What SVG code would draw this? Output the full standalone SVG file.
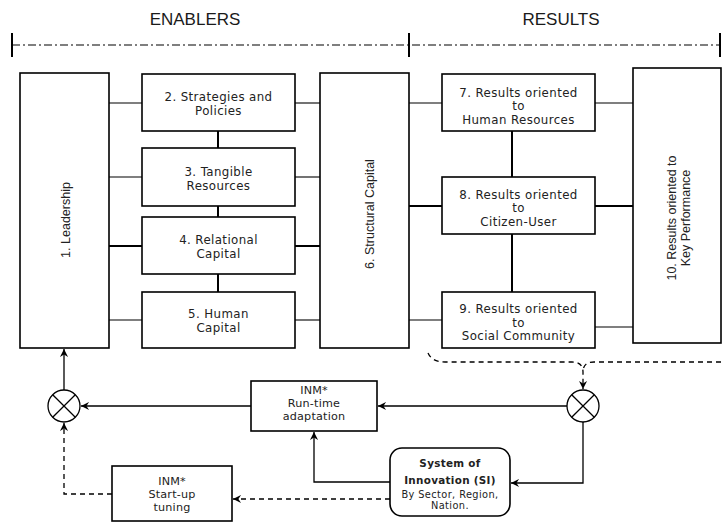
<svg xmlns="http://www.w3.org/2000/svg" width="722" height="522" viewBox="0 0 722 522">
  <defs>
    <marker id="arrow" viewBox="0 0 10 10" refX="9.5" refY="5" markerWidth="9" markerHeight="9" markerUnits="userSpaceOnUse" orient="auto">
      <path d="M0.5,0.5 L9.5,5 L0.5,9.5 L3.5,5 Z" fill="#000"/>
    </marker>
    <style>
      .box { fill: #fff; stroke: #000; stroke-width: 1.6; }
      .lbl { font-family: "DejaVu Sans", Verdana, sans-serif; font-size: 11.8px; letter-spacing: 0.4px; fill: #222; text-anchor: middle; }
      .small { font-family: "DejaVu Sans", Verdana, sans-serif; font-size: 11.2px; letter-spacing: 0.2px; fill: #222; text-anchor: middle; }
      .si { font-family: "DejaVu Sans", Verdana, sans-serif; font-size: 9.8px; letter-spacing: 0.4px; fill: #222; text-anchor: middle; }
      .sib { font-family: "DejaVu Sans", Verdana, sans-serif; font-size: 10.4px; font-weight: bold; letter-spacing: 0.3px; fill: #222; text-anchor: middle; }
      .rot { font-family: "Liberation Sans", Arial, sans-serif; font-size: 12.5px; fill: #222; text-anchor: middle; }
      .head { font-family: "Liberation Sans", Arial, sans-serif; font-size: 17px; fill: #1a1a1a; text-anchor: middle; }
      .conn { fill: none; stroke: #000; stroke-width: 1.1; }
      .thick { fill: none; stroke: #000; stroke-width: 2; }
      .flow { fill: none; stroke: #000; stroke-width: 1.3; }
      .dash { fill: none; stroke: #000; stroke-width: 1.3; stroke-dasharray: 5,4; }
      .sum { fill: #fff; stroke: #000; stroke-width: 1.3; }
    </style>
  </defs>

  <!-- section headings -->
  <g id="headers">
    <text class="head" x="195" y="25">ENABLERS</text>
    <text class="head" x="561" y="25">RESULTS</text>
    <line x1="12" y1="45" x2="720" y2="45" stroke="#000" stroke-width="1.1" stroke-dasharray="8,3,2,3"/>
    <line x1="12" y1="33" x2="12" y2="57" stroke="#000" stroke-width="2"/>
    <line x1="409" y1="33" x2="409" y2="57" stroke="#000" stroke-width="2"/>
    <line x1="720" y1="33" x2="720" y2="57" stroke="#000" stroke-width="2"/>
  </g>

  <!-- connectors -->
  <g id="connectors">
    <!-- leadership to enablers -->
    <line class="conn" x1="109" y1="103" x2="142" y2="103"/>
    <line class="conn" x1="109" y1="177" x2="142" y2="177"/>
    <line class="thick" x1="109" y1="246" x2="142" y2="246"/>
    <line class="conn" x1="109" y1="320" x2="142" y2="320"/>
    <!-- enablers to structural capital -->
    <line class="conn" x1="295" y1="103" x2="320" y2="103"/>
    <line class="conn" x1="295" y1="177" x2="320" y2="177"/>
    <line class="thick" x1="295" y1="246" x2="320" y2="246"/>
    <line class="conn" x1="295" y1="320" x2="320" y2="320"/>
    <!-- enabler chain -->
    <line class="thick" x1="218" y1="131" x2="218" y2="148"/>
    <line class="thick" x1="218" y1="206" x2="218" y2="217"/>
    <line class="thick" x1="218" y1="274" x2="218" y2="292"/>
    <!-- structural capital to results -->
    <line class="conn" x1="409" y1="103" x2="442" y2="103"/>
    <line class="thick" x1="409" y1="206" x2="442" y2="206"/>
    <line class="conn" x1="409" y1="320" x2="442" y2="320"/>
    <!-- results chain -->
    <line class="thick" x1="512" y1="131" x2="512" y2="177"/>
    <line class="thick" x1="512" y1="234" x2="512" y2="292"/>
    <!-- results to key performance -->
    <line class="conn" x1="595" y1="103" x2="633" y2="103"/>
    <line class="thick" x1="595" y1="206" x2="633" y2="206"/>
    <line class="conn" x1="595" y1="327" x2="633" y2="327"/>

    <!-- feedback loop -->
    <path class="dash" d="M428,353 Q432,362 445,362 L572,362 Q583,362 583,372 L583,389" marker-end="url(#arrow)"/>
    <path class="dash" d="M721,362 L594,362 Q583,362 583,372"/>
    <line class="flow" x1="567" y1="406" x2="378" y2="406" marker-end="url(#arrow)"/>
    <path class="flow" d="M583,422 L583,483 L511,483" marker-end="url(#arrow)"/>
    <path class="flow" d="M390,482 L314,482 L314,432" marker-end="url(#arrow)"/>
    <line class="dash" x1="390" y1="499" x2="233" y2="499" marker-end="url(#arrow)"/>
    <line class="flow" x1="251" y1="406" x2="81" y2="406" marker-end="url(#arrow)"/>
    <path class="dash" d="M112,494 L64,494 L64,423" marker-end="url(#arrow)"/>
    <line class="flow" x1="64" y1="390" x2="64" y2="349" marker-end="url(#arrow)"/>
  </g>

  <g id="n1">
    <rect class="box" x="20" y="73" width="89" height="275"/>
    <text class="rot" transform="translate(65,220) rotate(-90)" x="0" y="4.5">1. Leadership</text>
  </g>
  <g id="n2">
    <rect class="box" x="142" y="74" width="153" height="57"/>
    <text class="lbl" x="218.5" y="101">2. Strategies and</text>
    <text class="lbl" x="218.5" y="115">Policies</text>
  </g>
  <g id="n3">
    <rect class="box" x="142" y="148" width="153" height="58"/>
    <text class="lbl" x="218.5" y="176">3. Tangible</text>
    <text class="lbl" x="218.5" y="190">Resources</text>
  </g>
  <g id="n4">
    <rect class="box" x="142" y="217" width="153" height="57"/>
    <text class="lbl" x="218.5" y="244">4. Relational</text>
    <text class="lbl" x="218.5" y="258">Capital</text>
  </g>
  <g id="n5">
    <rect class="box" x="142" y="292" width="153" height="56"/>
    <text class="lbl" x="218.5" y="318">5. Human</text>
    <text class="lbl" x="218.5" y="332">Capital</text>
  </g>
  <g id="n6">
    <rect class="box" x="320" y="73" width="89" height="275"/>
    <text class="rot" transform="translate(369,214) rotate(-90)" x="0" y="4.5">6. Structural Capital</text>
  </g>
  <g id="n7">
    <rect class="box" x="442" y="74" width="153" height="57"/>
    <text class="lbl" x="518.5" y="96.5">7. Results oriented</text>
    <text class="lbl" x="518.5" y="110">to</text>
    <text class="lbl" x="518.5" y="123.5">Human Resources</text>
  </g>
  <g id="n8">
    <rect class="box" x="442" y="177" width="153" height="57"/>
    <text class="lbl" x="518.5" y="198.5">8. Results oriented</text>
    <text class="lbl" x="518.5" y="212">to</text>
    <text class="lbl" x="518.5" y="225.5">Citizen-User</text>
  </g>
  <g id="n9">
    <rect class="box" x="442" y="292" width="153" height="56"/>
    <text class="lbl" x="518.5" y="313">9. Results oriented</text>
    <text class="lbl" x="518.5" y="326.5">to</text>
    <text class="lbl" x="518.5" y="340">Social Community</text>
  </g>
  <g id="n10">
    <rect class="box" x="633" y="68" width="88" height="275"/>
    <text class="rot" transform="translate(671,218) rotate(-90)" x="0" y="4.5">10. Results oriented to</text>
    <text class="rot" transform="translate(685,218) rotate(-90)" x="0" y="4.5">Key Performance</text>
  </g>

  <g id="sum-left">
    <circle class="sum" cx="64" cy="406" r="16"/>
    <path class="flow" d="M52.7,394.7 L75.3,417.3 M75.3,394.7 L52.7,417.3"/>
  </g>
  <g id="sum-right">
    <circle class="sum" cx="583" cy="406" r="16"/>
    <path class="flow" d="M571.7,394.7 L594.3,417.3 M594.3,394.7 L571.7,417.3"/>
  </g>

  <g id="runtime">
    <rect class="box" x="251" y="381" width="126" height="50" stroke-width="1.3"/>
    <text class="small" x="314" y="394">INM*</text>
    <text class="small" x="314" y="407">Run-time</text>
    <text class="small" x="314" y="420">adaptation</text>
  </g>
  <g id="startup">
    <rect class="box" x="112" y="466" width="120" height="55" stroke-width="1.3"/>
    <text class="small" x="172" y="485">INM*</text>
    <text class="small" x="172" y="498">Start-up</text>
    <text class="small" x="172" y="511">tuning</text>
  </g>
  <g id="si">
    <rect class="box" x="390" y="448" width="120" height="68" rx="12" ry="12" stroke-width="1.3"/>
    <text class="sib" x="450" y="466.5">System of</text>
    <text class="sib" x="450" y="484">Innovation (SI)</text>
    <text class="si" x="450" y="497.5">By Sector, Region,</text>
    <text class="si" x="450" y="508.5">Nation.</text>
  </g>
</svg>
